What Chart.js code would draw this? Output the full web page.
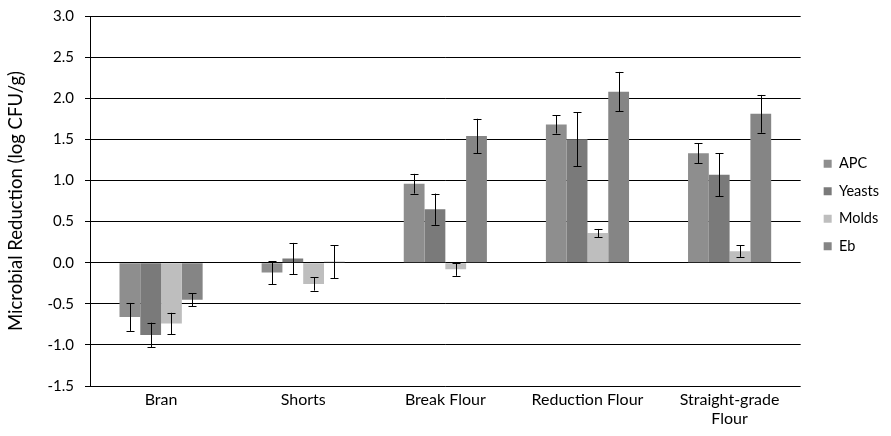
<!DOCTYPE html>
<html>
<head>
<meta charset="utf-8">
<script src="https://cdn.jsdelivr.net/npm/chart.js@4/dist/chart.umd.min.js"></script>
<style>
  html, body { margin: 0; padding: 0; background: #fff; }
  #wrap { width: 891px; height: 436px; }
</style>
</head>
<body>
<div id="wrap"><canvas id="c" width="891" height="436"></canvas></div>
<script>
// Product fractions
const categories = ['Bran', 'Shorts', 'Break Flour', 'Reduction Flour', ['Straight-grade', 'Flour']];

// Mean microbial reduction (log CFU/g)
const apc    = [-0.66, -0.12, 0.96, 1.68, 1.33];
const yeasts = [-0.88,  0.05, 0.65, 1.50, 1.07];
const molds  = [-0.74, -0.26, -0.08, 0.36, 0.14];
const eb     = [-0.45,  0.01, 1.54, 2.08, 1.81];

// Error bar half-lengths (standard deviation)
const apcErr    = [0.17, 0.14, 0.12, 0.11, 0.12];
const yeastsErr = [0.15, 0.19, 0.19, 0.33, 0.26];
const moldsErr  = [0.13, 0.08, 0.08, 0.05, 0.07];
const ebErr     = [0.08, 0.20, 0.21, 0.24, 0.23];

const yTicks = [3.0, 2.5, 2.0, 1.5, 1.0, 0.5, 0.0, -0.5, -1.0, -1.5];

const FONT = 'Lato, "Open Sans", sans-serif';

// Draws the whiskers on top of each bar
const errorBars = {
  id: 'errorBars',
  afterDatasetsDraw(chart) {
    const ctx = chart.ctx;
    const y = chart.scales.y;
    ctx.save();
    ctx.strokeStyle = '#000';
    ctx.lineWidth = 1;
    chart.data.datasets.forEach((ds, di) => {
      const meta = chart.getDatasetMeta(di);
      meta.data.forEach((bar, i) => {
        const v = ds.data[i], e = ds.errors[i];
        const x = Math.round(bar.x) + 0.5;
        const top = y.getPixelForValue(v + e);
        const bot = y.getPixelForValue(v - e);
        ctx.beginPath();
        ctx.moveTo(x, top); ctx.lineTo(x, bot);
        ctx.moveTo(x - 4, Math.round(top) + 0.5); ctx.lineTo(x + 4, Math.round(top) + 0.5);
        ctx.moveTo(x - 4, Math.round(bot) + 0.5); ctx.lineTo(x + 4, Math.round(bot) + 0.5);
        ctx.stroke();
      });
    });
    ctx.restore();
  }
};

// Places the legend block beside the middle of the plot area
const legendPlacement = {
  id: 'legendPlacement',
  afterLayout(chart) {
    const lg = chart.legend;
    if (!lg) return;
    const dy = -21, dx = 10;
    lg.top += dy; lg.bottom += dy;
    lg.left += dx; lg.right += dx;
  }
};

new Chart(document.getElementById('c'), {
  type: 'bar',
  data: {
    labels: categories,
    datasets: [
      { label: 'APC',    data: apc,    errors: apcErr,    backgroundColor: '#8e8e8e' },
      { label: 'Yeasts', data: yeasts, errors: yeastsErr, backgroundColor: '#7a7a7a' },
      { label: 'Molds',  data: molds,  errors: moldsErr,  backgroundColor: '#bebebe' },
      { label: 'Eb',     data: eb,     errors: ebErr,     backgroundColor: '#858585' }
    ]
  },
  options: {
    responsive: false,
    animation: false,
    devicePixelRatio: 1,
    layout: { padding: { top: 16, left: 5, right: 12, bottom: 0 } },
    datasets: { bar: { categoryPercentage: 0.585, barPercentage: 1.0 } },
    plugins: {
      legend: {
        position: 'right',
        labels: {
          font: { family: FONT, size: 14.5 },
          color: '#000',
          boxWidth: 8,
          boxHeight: 8,
          padding: 13
        }
      },
      tooltip: { enabled: false }
    },
    scales: {
      x: {
        grid: { display: false, drawTicks: false },
        border: { display: false },
        ticks: {
          font: { family: FONT, size: 16, lineHeight: 1.2 },
          color: '#000',
          padding: 4,
          maxRotation: 0,
          autoSkip: false
        },
        afterFit(s) { s.height = 50; }
      },
      y: {
        min: -1.5,
        max: 3.0,
        afterBuildTicks(s) { s.ticks = yTicks.map(v => ({ value: v })); },
        grid: { color: '#000', lineWidth: 1, drawTicks: true, tickLength: 5 },
        border: { color: '#000', width: 1 },
        ticks: {
          font: { family: FONT, size: 15 },
          color: '#000',
          padding: 11,
          callback: v => v.toFixed(1)
        },
        title: {
          display: true,
          text: 'Microbial Reduction (log CFU/g)',
          font: { family: FONT, size: 18.5 },
          color: '#000',
          padding: { top: 0, bottom: 4 }
        },
        afterFit(s) { s.width = 85; s.paddingTop = 0; s.paddingBottom = 0; }
      }
    }
  },
  plugins: [errorBars, legendPlacement]
});
</script>
</body>
</html>
